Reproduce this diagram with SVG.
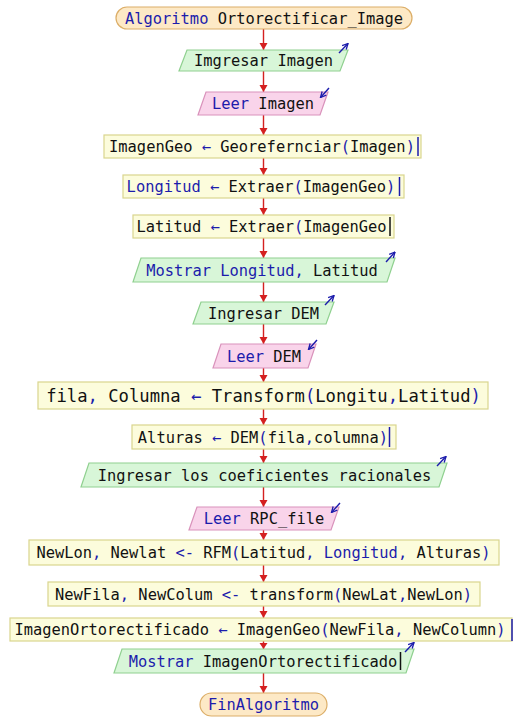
<svg xmlns="http://www.w3.org/2000/svg" width="514" height="718" viewBox="0 0 514 718">
<style>
text{font-family:"DejaVu Sans Mono","Liberation Mono",monospace;font-size:15.4px;fill:#111;text-anchor:middle}
.k{fill:#1c1cac}
.term{fill:#fde9c6;stroke:#dcae68;stroke-width:1.2}
.out{fill:#d8f6d8;stroke:#8fd08f;stroke-width:1.2}
.inp{fill:#f9d4ea;stroke:#d992bb;stroke-width:1.2}
.proc{fill:#fcfcdc;stroke:#d9d58e;stroke-width:1.2}
.io{stroke:#1c1cac;stroke-width:1.4;fill:none}
.cur{stroke:#1c1cac;stroke-width:1.5}
.curb{stroke:#111;stroke-width:1.5}
</style>
<defs>
<marker id="sa" viewBox="0 0 10 10" refX="9" refY="5" markerWidth="7" markerHeight="7" markerUnits="userSpaceOnUse" orient="auto">
<path d="M1,1 L9,5 L1,9" fill="none" stroke="#1c1cac" stroke-width="1.9"/>
</marker>
</defs>
<g id="connectors">
<path d="M263.5,29V50M263.5,71V92M263.5,115V135M263.5,158V175M263.5,198V215M263.5,238V258M263.5,282V302M263.5,324V344M263.5,368V382M263.5,409V425M263.5,449V463M263.5,487V507M263.5,530V540M263.5,565V582M263.5,606V618M263.5,641V649M263.5,673V693" stroke="#d42020" stroke-width="1.4" fill="none"/>
<g fill="#d42020">
<path d="M259.5,43L267.5,43L263.5,50Z"/>
<path d="M259.5,85L267.5,85L263.5,92Z"/>
<path d="M259.5,128L267.5,128L263.5,135Z"/>
<path d="M259.5,168L267.5,168L263.5,175Z"/>
<path d="M259.5,208L267.5,208L263.5,215Z"/>
<path d="M259.5,251L267.5,251L263.5,258Z"/>
<path d="M259.5,295L267.5,295L263.5,302Z"/>
<path d="M259.5,337L267.5,337L263.5,344Z"/>
<path d="M259.5,375L267.5,375L263.5,382Z"/>
<path d="M259.5,418L267.5,418L263.5,425Z"/>
<path d="M259.5,456L267.5,456L263.5,463Z"/>
<path d="M259.5,500L267.5,500L263.5,507Z"/>
<path d="M259.5,533L267.5,533L263.5,540Z"/>
<path d="M259.5,575L267.5,575L263.5,582Z"/>
<path d="M259.5,611L267.5,611L263.5,618Z"/>
<path d="M259.5,643L267.5,643L263.5,649Z"/>
<path d="M259.5,686L267.5,686L263.5,693Z"/>
</g>
</g>
<g id="n1"><rect class="term" x="116" y="7" width="296" height="22" rx="11"/><text x="264" y="23.5"><tspan class="k">Algoritmo</tspan> Ortorectificar_Image</text></g>
<g id="n2"><polygon class="out" points="187,50 348,50 340,71 179,71"/><text x="263.5" y="66">Imgresar Imagen</text><path class="io" d="M339,53L348,43.5" marker-end="url(#sa)"/></g>
<g id="n3"><polygon class="inp" points="206,92 328,92 320,115 198,115"/><text x="263" y="109"><tspan class="k">Leer</tspan> Imagen</text><path class="io" d="M329,88L320.5,97.5" marker-end="url(#sa)"/></g>
<g id="n4"><rect class="proc" x="104" y="135" width="317" height="23"/><text x="262" y="152">ImagenGeo <tspan class="k">←</tspan> Georefernciar<tspan class="k">(</tspan>Imagen<tspan class="k">)</tspan></text><line class="cur" x1="418" y1="137" x2="418" y2="156"/></g>
<g id="n5"><rect class="proc" x="123" y="175" width="281" height="23"/><text x="261" y="192"><tspan class="k">Longitud ←</tspan> Extraer<tspan class="k">(</tspan>ImagenGeo<tspan class="k">)</tspan></text><line class="cur" x1="399.5" y1="177" x2="399.5" y2="196"/></g>
<g id="n6"><rect class="proc" x="133" y="215" width="261" height="23"/><text x="261.5" y="232">Latitud <tspan class="k">←</tspan> Extraer<tspan class="k">(</tspan>ImagenGeo</text><line class="curb" x1="390" y1="217" x2="390" y2="236"/></g>
<g id="n7"><polygon class="out" points="141,258 395,258 387,282 133,282"/><text x="262" y="275.5"><tspan class="k">Mostrar Longitud,</tspan> Latitud</text><path class="io" d="M386,262L395,252" marker-end="url(#sa)"/></g>
<g id="n8"><polygon class="out" points="201,302 334,302 326,324 193,324"/><text x="263.5" y="318.5">Ingresar DEM</text><path class="io" d="M325,305L334,295.5" marker-end="url(#sa)"/></g>
<g id="n9"><polygon class="inp" points="221,344 316,344 308,368 213,368"/><text x="264" y="361.5"><tspan class="k">Leer</tspan> DEM</text><path class="io" d="M317,340L308.5,349.5" marker-end="url(#sa)"/></g>
<g id="n10"><rect class="proc" x="38" y="382" width="450" height="27"/><text x="263.5" y="401.5" style="font-size:17.2px">fila<tspan class="k">,</tspan> Columna <tspan class="k">←</tspan> Transform<tspan class="k">(</tspan>Longitu<tspan class="k">,</tspan>Latitud<tspan class="k">)</tspan></text></g>
<g id="n11"><rect class="proc" x="132" y="425" width="264" height="24"/><text x="263" y="442.5">Alturas <tspan class="k">←</tspan> DEM<tspan class="k">(</tspan>fila<tspan class="k">,</tspan>columna<tspan class="k">)</tspan></text><line class="cur" x1="389.5" y1="427" x2="389.5" y2="447"/></g>
<g id="n12"><polygon class="out" points="89,463 447,463 439,487 81,487"/><text x="264.5" y="480.5">Ingresar los coeficientes racionales</text><path class="io" d="M437,466L446,456.5" marker-end="url(#sa)"/></g>
<g id="n13"><polygon class="inp" points="197,507 339,507 331,530 189,530"/><text x="264" y="524"><tspan class="k">Leer</tspan> RPC_file</text><path class="io" d="M340,503L331.5,512.5" marker-end="url(#sa)"/></g>
<g id="n14"><rect class="proc" x="29" y="540" width="470" height="25"/><text x="263.5" y="558">NewLon<tspan class="k">,</tspan> Newlat <tspan class="k">&lt;-</tspan> RFM<tspan class="k">(</tspan>Latitud<tspan class="k">, Longitud,</tspan> Alturas<tspan class="k">)</tspan></text></g>
<g id="n15"><rect class="proc" x="48" y="582" width="432" height="24"/><text x="263.5" y="599.5">NewFila<tspan class="k">,</tspan> NewColum <tspan class="k">&lt;-</tspan> transform<tspan class="k">(</tspan>NewLat<tspan class="k">,</tspan>NewLon<tspan class="k">)</tspan></text></g>
<g id="n16"><rect class="proc" x="10" y="618" width="502" height="23"/><text x="260" y="635">ImagenOrtorectificado <tspan class="k">←</tspan> ImagenGeo<tspan class="k">(</tspan>NewFila<tspan class="k">,</tspan> NewColumn<tspan class="k">)</tspan></text><line class="cur" x1="512" y1="619" x2="512" y2="641"/></g>
<g id="n17"><polygon class="out" points="122,649 414,649 406,673 114,673"/><text x="263" y="666.5"><tspan class="k">Mostrar</tspan> ImagenOrtorectificado</text><line class="curb" x1="400.5" y1="652" x2="400.5" y2="670"/><path class="io" d="M405,652L414,642.5" marker-end="url(#sa)"/></g>
<g id="n18"><rect class="term" x="200" y="693" width="127" height="23" rx="11.5"/><text x="263.5" y="710" class="k">FinAlgoritmo</text></g>
</svg>
